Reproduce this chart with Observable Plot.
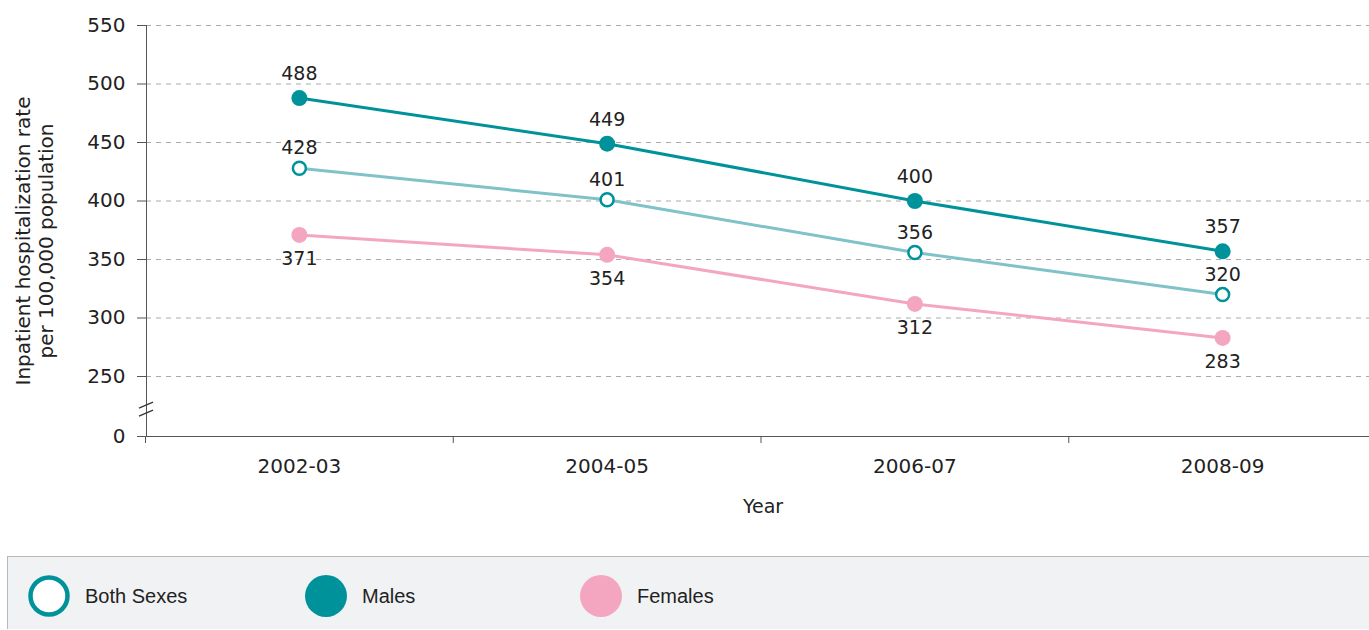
<!DOCTYPE html>
<html>
<head>
<meta charset="utf-8">
<script src="https://cdn.jsdelivr.net/npm/d3@7"></script>
<script src="https://cdn.jsdelivr.net/npm/@observablehq/plot@0.6"></script>
<style>
  body { margin: 0; background: #fff; font-family: "DejaVu Sans", sans-serif; color: #222; }
  #chart svg { display: block; }
  #legend {
    margin-top: 6px; margin-left: 7px; height: 72px;
    background: #f1f2f4; border-top: 1px solid #b8b8b8; border-left: 1px solid #b8b8b8;
  }
  #legend svg { display: block; }
</style>
</head>
<body>
<div id="chart"></div>
<div id="legend"></div>
<script>
// Fiscal-year periods and their starting year (used as the x position)
const periods = ["2002-03", "2004-05", "2006-07", "2008-09"];
const periodStart = [2002, 2004, 2006, 2008];

// Inpatient hospitalization rate per 100,000 population
const bothSexes = [428, 401, 356, 320];
const males = [488, 449, 400, 357];
const females = [371, 354, 312, 283];

// Y ticks (axis is broken between 0 and 250)
const yTicks = [0, 250, 300, 350, 400, 450, 500, 550];
// Band boundaries between the periods on the x axis
const periodEdges = [2001, 2003, 2005, 2007];

const seriesNames = ["Both Sexes", "Males", "Females"];
const seriesValues = [bothSexes, males, females];

const teal = "#00929b";
const tealLight = "#7fc2c7";
const pink = "#f4a6c0";

const rows = seriesNames.flatMap((name, s) =>
  periodStart.map((start, i) => ({series: name, start, period: periods[i], value: seriesValues[s][i]}))
);
const of = (name) => rows.filter((d) => d.series === name);

const chart = Plot.plot({
  width: 1369,
  height: 550,
  marginLeft: 146,
  marginRight: 0,
  marginTop: 25,
  marginBottom: 114,
  style: {fontFamily: "DejaVu Sans, sans-serif", color: "#222", background: "#fff"},
  x: {type: "linear", domain: [2001, 2009], range: [145, 1376]},
  y: {type: "linear", domain: [0, 250, 550], range: [436, 376, 25]},
  marks: [
    // dashed gridlines
    Plot.ruleY(yTicks.filter((d) => d > 0), {stroke: "#aaa", strokeWidth: 1, strokeDasharray: "5,5"}),
    // y axis
    Plot.axisY({ticks: yTicks, tickSize: 9, tickPadding: 12, tickFormat: d3.format("d"),
      fontSize: 20, stroke: "#555", fill: "#222", label: null}),
    Plot.frame({anchor: "left", stroke: "#555"}),
    // x axis line, boundary ticks and period labels
    Plot.ruleY([0], {stroke: "#555"}),
    Plot.axisX({ticks: periodEdges, tickSize: 7, tickFormat: () => "", stroke: "#555", label: null}),
    Plot.axisX({ticks: periodStart, tickSize: 0, tickPadding: 22,
      tickFormat: (d) => periods[periodStart.indexOf(d)], fontSize: 20, fill: "#222", label: null}),
    // series lines
    Plot.line(of("Both Sexes"), {x: "start", y: "value", stroke: tealLight, strokeWidth: 3}),
    Plot.line(of("Females"), {x: "start", y: "value", stroke: pink, strokeWidth: 3}),
    Plot.line(of("Males"), {x: "start", y: "value", stroke: teal, strokeWidth: 3}),
    // markers
    Plot.dot(of("Both Sexes"), {x: "start", y: "value", r: 6.5, fill: "#fff", stroke: teal, strokeWidth: 2.5}),
    Plot.dot(of("Males"), {x: "start", y: "value", r: 8, fill: teal}),
    Plot.dot(of("Females"), {x: "start", y: "value", r: 8, fill: pink}),
    // value labels
    Plot.text(of("Males"), {x: "start", y: "value", text: "value", dy: -24, fontSize: 19, fill: "#222"}),
    Plot.text(of("Both Sexes"), {x: "start", y: "value", text: "value", dy: -20, fontSize: 19, fill: "#222"}),
    Plot.text(of("Females"), {x: "start", y: "value", text: "value", dy: 24, fontSize: 19, fill: "#222"}),
    // axis titles
    Plot.text(["Inpatient hospitalization rate\nper 100,000 population"], {
      frameAnchor: "left", textAnchor: "middle", lineAnchor: "middle", rotate: -90,
      dx: -112, dy: 10, lineHeight: 1.15, fontSize: 20, fill: "#222"
    }),
    Plot.text(["Year"], {frameAnchor: "bottom", dx: 5, dy: 76, fontSize: 19, fill: "#222"})
  ]
});
document.getElementById("chart").append(chart);

// Axis-break marks on the y axis, placed through the y scale
const yScale = chart.scale("y");
const yBreak = yScale.apply(112);
const axisX0 = 146;
const brk = d3.select(chart).append("g").attr("stroke", "#333").attr("stroke-width", 1.2);
[-4, 4].forEach((off) => {
  brk.append("line")
    .attr("x1", axisX0 - 7).attr("y1", yBreak + off + 3)
    .attr("x2", axisX0 + 7).attr("y2", yBreak + off - 3);
});

// Legend
const legendItems = [
  {name: seriesNames[0], fill: "#fff", stroke: teal},
  {name: seriesNames[1], fill: teal, stroke: "none"},
  {name: seriesNames[2], fill: pink, stroke: "none"}
];
const legendX = [41, 318, 593];
const lg = d3.select("#legend").append("svg").attr("width", 1362).attr("height", 72);
legendItems.forEach((it, i) => {
  const g = lg.append("g").attr("transform", `translate(${legendX[i]},39)`);
  g.append("circle")
    .attr("r", it.stroke === "none" ? 21 : 18.5)
    .attr("fill", it.fill)
    .attr("stroke", it.stroke)
    .attr("stroke-width", it.stroke === "none" ? 0 : 4.5);
  g.append("text")
    .attr("x", 36).attr("dy", "0.35em")
    .attr("font-family", "Liberation Sans, Arial, sans-serif")
    .attr("font-size", 20).attr("fill", "#222")
    .text(it.name);
});
</script>
</body>
</html>
